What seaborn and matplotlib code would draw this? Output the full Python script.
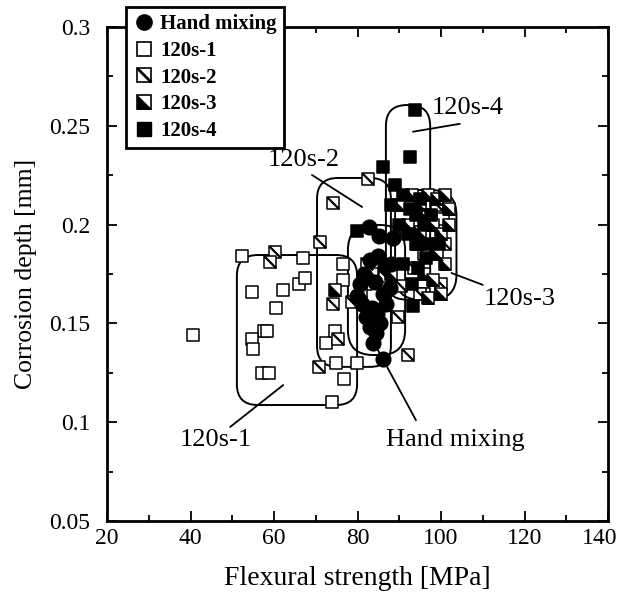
import numpy as np
import pandas as pd
import matplotlib
matplotlib.use("Agg")
import matplotlib.pyplot as plt
import matplotlib.transforms as mtrans
import seaborn as sns
from matplotlib.path import Path
from matplotlib.patches import FancyBboxPatch
from matplotlib.legend_handler import HandlerTuple
from matplotlib.lines import Line2D
from matplotlib.ticker import MultipleLocator

# Flexural strength [MPa] and corrosion depth [mm] for each mixing condition
hand_x = [82.8, 85.1, 83.0, 84.9, 86.6, 84.2, 87.8, 79.9, 81.1, 83.5, 84.7, 83.0,
          83.7, 86.1, 88.5, 81.5, 86.0, 82.0, 85.5, 80.5, 88.0, 84.5, 86.8]
hand_y = [0.199, 0.194, 0.182, 0.184, 0.179, 0.171, 0.168, 0.164, 0.160, 0.158,
          0.155, 0.148, 0.140, 0.132, 0.193, 0.175, 0.165, 0.153, 0.150, 0.170,
          0.180, 0.145, 0.160]

s1_x = [40.6, 52.3, 54.7, 62.2, 66.0, 67.4, 67.0, 60.4, 57.5, 58.3, 54.7, 55.0,
        57.1, 58.8, 73.9, 74.9, 79.9, 76.8, 72.5, 74.6, 76.5, 76.5, 82.0,
        100.5, 98.5, 96.0]
s1_y = [0.144, 0.184, 0.166, 0.167, 0.170, 0.173, 0.183, 0.158, 0.146, 0.146,
        0.142, 0.137, 0.125, 0.125, 0.110, 0.130, 0.130, 0.122, 0.140, 0.146,
        0.180, 0.172, 0.170, 0.203, 0.187, 0.165]

s2_x = [60.2, 59.0, 71.0, 74.1, 82.5, 82.3, 78.7, 74.1, 75.3, 70.8, 89.7, 92.0,
        83.5, 86.5, 90.5, 80.8, 93.5, 97.0, 99.0, 101.0, 95.0, 96.0, 100.0]
s2_y = [0.186, 0.181, 0.191, 0.211, 0.223, 0.180, 0.161, 0.160, 0.142, 0.128,
        0.153, 0.134, 0.175, 0.174, 0.169, 0.166, 0.178, 0.200, 0.210, 0.190,
        0.165, 0.185, 0.170]

s3_x = [74.6, 93.0, 95.0, 97.0, 99.0, 101.0, 96.0, 98.0, 100.0, 102.0, 94.0,
        99.0, 101.0, 96.0, 98.0, 100.0, 97.0, 92.0, 95.0, 102.0, 90.0, 88.0]
s3_y = [0.167, 0.215, 0.210, 0.215, 0.213, 0.215, 0.205, 0.200, 0.195, 0.200,
        0.190, 0.185, 0.180, 0.175, 0.172, 0.165, 0.163, 0.200, 0.196, 0.208,
        0.210, 0.175]

s4_x = [93.8, 92.6, 86.1, 89.0, 79.9, 93.3, 91.0, 94.0, 96.0, 92.0, 95.0, 91.0,
        97.0, 93.0, 90.0, 88.0, 95.0, 97.5, 99.5, 94.5, 92.5, 96.5]
s4_y = [0.258, 0.234, 0.229, 0.220, 0.197, 0.159, 0.215, 0.205, 0.200, 0.195,
        0.190, 0.180, 0.190, 0.170, 0.200, 0.210, 0.213, 0.205, 0.190, 0.178,
        0.208, 0.183]

group_names = ["Hand mixing", "120s-1", "120s-2", "120s-3", "120s-4"]
frames = []
for name, xs, ys in zip(group_names,
                        [hand_x, s1_x, s2_x, s3_x, s4_x],
                        [hand_y, s1_y, s2_y, s3_y, s4_y]):
    frames.append(pd.DataFrame({"strength": xs, "depth": ys, "group": name}))
df = pd.concat(frames, ignore_index=True)

sns.set_theme(style="ticks")
plt.rcParams["font.family"] = ["Liberation Serif", "DejaVu Serif"]
plt.rcParams.update({"text.color": "black", "axes.labelcolor": "black",
                     "xtick.color": "black", "ytick.color": "black",
                     "axes.edgecolor": "black"})

fig = plt.figure(figsize=(6.24, 5.93), dpi=100)
ax = fig.add_axes([0.1715, 0.1214, 0.8029, 0.8331])
ax.set_xlim(20, 140)
ax.set_ylim(0.05, 0.3)

# marker shapes: diagonal stroke and half-filled square
diag = Path([(-1, 1), (1, -1)], [Path.MOVETO, Path.LINETO])
half = Path([(-1, 1), (-1, -1), (1, -1), (-1, 1)],
            [Path.MOVETO, Path.LINETO, Path.LINETO, Path.CLOSEPOLY])

SQ = 70
LW = 1.1


def sub(name):
    return df[df["group"] == name]


sns.scatterplot(data=sub("120s-1"), x="strength", y="depth", marker="s", s=SQ,
                color="white", edgecolor="black", linewidth=LW, ax=ax,
                legend=False, zorder=3)
sns.scatterplot(data=sub("120s-2"), x="strength", y="depth", marker="s", s=SQ,
                color="white", edgecolor="black", linewidth=LW, ax=ax,
                legend=False, zorder=3)
sns.scatterplot(data=sub("120s-2"), x="strength", y="depth", marker=diag, s=SQ,
                color="black", edgecolor="black", linewidth=1.6, ax=ax,
                legend=False, zorder=3)
sns.scatterplot(data=sub("120s-3"), x="strength", y="depth", marker="s", s=SQ,
                color="white", edgecolor="black", linewidth=LW, ax=ax,
                legend=False, zorder=3)
sns.scatterplot(data=sub("120s-3"), x="strength", y="depth", marker=half, s=SQ,
                color="black", edgecolor="black", linewidth=0.5, ax=ax,
                legend=False, zorder=3)
sns.scatterplot(data=sub("120s-4"), x="strength", y="depth", marker="s", s=SQ,
                color="black", edgecolor="black", linewidth=LW, ax=ax,
                legend=False, zorder=3)
sns.scatterplot(data=sub("Hand mixing"), x="strength", y="depth", marker="o",
                s=110, color="black", edgecolor="black", linewidth=LW, ax=ax,
                legend=False, zorder=4)

# rounded outlines around each group
fig.canvas.draw()
bbox = ax.get_window_extent()
aspect = ((0.25 / bbox.height) / (120.0 / bbox.width))
boxes = [  # x0, y0, x1, y1, corner radius (MPa units)
    (51.1, 0.1087, 79.9, 0.1846, 5.0),
    (70.3, 0.1280, 88.0, 0.2236, 5.0),
    (77.7, 0.1340, 91.4, 0.1998, 6.0),
    (89.0, 0.1620, 103.7, 0.2175, 6.0),
    (86.8, 0.1620, 97.4, 0.2605, 5.0),
]
for x0, y0, x1, y1, r in boxes:
    ax.add_patch(FancyBboxPatch((x0, y0), x1 - x0, y1 - y0,
                                boxstyle=f"round,pad=0,rounding_size={r}",
                                mutation_aspect=aspect, fill=False,
                                edgecolor="black", linewidth=1.4, zorder=2))

# group labels with leader lines
TXT = 19
ax.plot([93.3, 104.5], [0.247, 0.251], color="black", lw=1.3, zorder=2)
ax.text(97.8, 0.259, "120s-4", fontsize=TXT, ha="left", va="center")
ax.plot([69.1, 81.1], [0.2251, 0.2089], color="black", lw=1.3, zorder=2)
ax.text(67.2, 0.2325, "120s-2", fontsize=TXT, ha="center", va="center")
ax.plot([102.5, 110.0], [0.1755, 0.1695], color="black", lw=1.3, zorder=2)
ax.text(110.3, 0.1625, "120s-3", fontsize=TXT, ha="left", va="center")
ax.plot([62.2, 49.5], [0.1188, 0.0976], color="black", lw=1.3, zorder=2)
ax.text(46.0, 0.091, "120s-1", fontsize=TXT, ha="center", va="center")
ax.plot([84.9, 94.0], [0.1365, 0.101], color="black", lw=1.3, zorder=2)
ax.text(103.5, 0.091, "Hand mixing", fontsize=TXT, ha="center", va="center")

# axes styling
ax.xaxis.set_minor_locator(MultipleLocator(10))
ax.yaxis.set_minor_locator(MultipleLocator(0.025))
ax.tick_params(which="both", direction="in", top=True, right=True,
               labelsize=17, width=1.3, colors="black")
ax.tick_params(axis="x", pad=5)
ax.tick_params(axis="y", pad=12)
ax.tick_params(which="major", length=7)
ax.tick_params(which="minor", length=4)
ax.set_xticks([20, 40, 60, 80, 100, 120, 140])
ax.set_xticklabels(["20", "40", "60", "80", "100", "120", "140"])
ax.set_yticks([0.05, 0.1, 0.15, 0.2, 0.25, 0.3])
ax.set_yticklabels(["0.05", "0.1", "0.15", "0.2", "0.25", "0.3"])
last = ax.get_xticklabels()[-1]
last.set_transform(last.get_transform() +
                   mtrans.ScaledTranslation(-8 / 100, 0, fig.dpi_scale_trans))
for sp in ax.spines.values():
    sp.set_linewidth(2.0)
    sp.set_color("black")
ax.set_xlabel("Flexural strength [MPa]", fontsize=20, labelpad=12)
ax.set_ylabel("Corrosion depth [mm]", fontsize=18.5, labelpad=9)

# legend with composite markers
h_hand = Line2D([], [], marker="o", ls="none", mfc="black", mec="black", ms=11)
h_s1 = Line2D([], [], marker="s", ls="none", mfc="white", mec="black", ms=10, mew=1.2)
h_s2a = Line2D([], [], marker="s", ls="none", mfc="white", mec="black", ms=10, mew=1.2)
h_s2b = Line2D([], [], marker=diag, ls="none", mfc="black", mec="black", ms=10, mew=2.0)
h_s3a = Line2D([], [], marker="s", ls="none", mfc="white", mec="black", ms=10, mew=1.2)
h_s3b = Line2D([], [], marker=half, ls="none", mfc="black", mec="black", ms=10, mew=0.5)
h_s4 = Line2D([], [], marker="s", ls="none", mfc="black", mec="black", ms=10)
leg = fig.legend([h_hand, h_s1, (h_s2a, h_s2b), (h_s3a, h_s3b), h_s4],
                 group_names, handler_map={tuple: HandlerTuple(ndivide=1)},
                 loc="upper left", bbox_to_anchor=(126 / 624, 1 - 7 / 593),
                 frameon=True, fancybox=False, edgecolor="black",
                 framealpha=1.0, borderpad=0.35, handletextpad=0.3,
                 handlelength=1.0, labelspacing=0.32, borderaxespad=0,
                 prop={"family": ["Liberation Serif"], "weight": "bold", "size": 15})
leg.get_frame().set_linewidth(2.0)
leg.set_zorder(10)

fig.savefig("out.png", dpi=100)
